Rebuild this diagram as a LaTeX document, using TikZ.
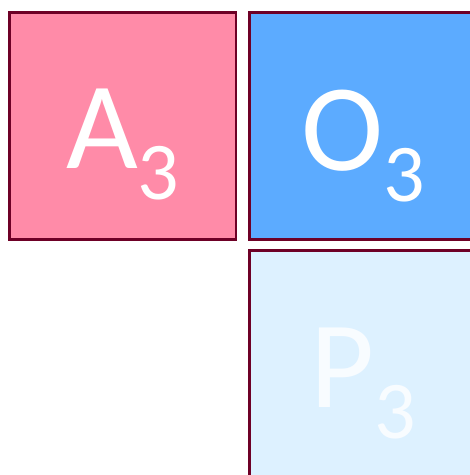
\documentclass[tikz,border=0pt]{standalone}
\usepackage{fontspec}
\setmainfont{Carlito}
\usetikzlibrary{positioning}
\definecolor{TileEdge}{HTML}{6E0026}
\definecolor{TilePink}{HTML}{FF8BA8}
\definecolor{TileBlue}{HTML}{5CABFF}
\definecolor{TilePale}{HTML}{DDF1FF}
\definecolor{TextPale}{HTML}{F8FCFF}
\newcommand{\tilelabel}[2]{{\fontsize{124}{124}\selectfont #1}{\fontsize{82}{82}\selectfont\raisebox{-31pt}{#2}}}

\begin{document}
\begin{tikzpicture}[x=1pt,y=1pt]
\tikzstyle{tile}=[draw=TileEdge,line width=2.5pt,outer sep=0pt,minimum width=226.5pt,minimum height=227pt,inner sep=0pt]
\tikzstyle{tiletext}=[anchor=base,inner sep=0pt,text=white]
\useasboundingbox (0,0) rectangle (470,-475);
\node[tile,fill=TilePink,anchor=north west] (a3) at (9.5,-12.5) {};
\node[tile,fill=TileBlue,right=13.7pt of a3] (o3) {};
\node[tile,fill=TilePale,below=11pt of o3] (p3) {};
\node[tiletext] (a3text) at ([yshift=-42.5pt]a3.center) {\tilelabel{A}{3}};
\node[tiletext] (o3text) at ([yshift=-44pt]o3.center) {\tilelabel{O}{3}};
\node[tiletext,text=TextPale] (p3text) at ([yshift=-43pt]p3.center) {\tilelabel{P}{3}};
\end{tikzpicture}
\end{document}
